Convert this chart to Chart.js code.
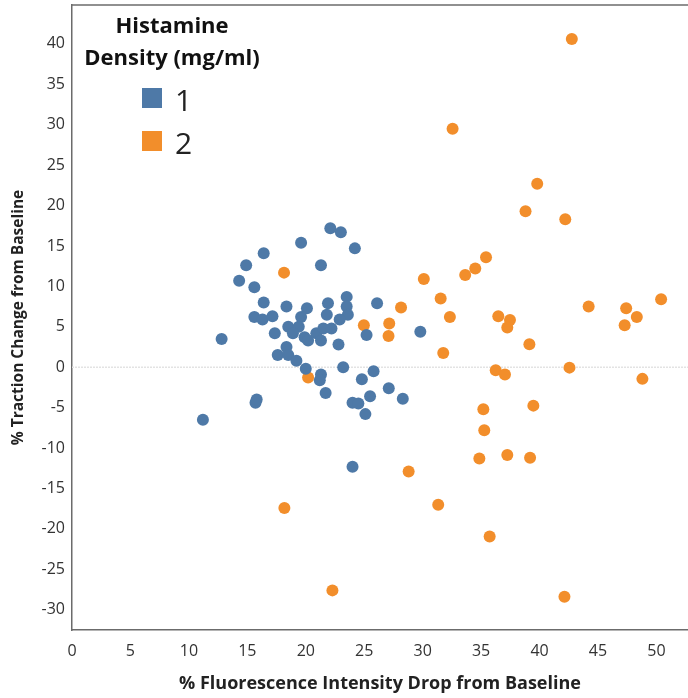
<!DOCTYPE html>
<html>
<head>
<meta charset="utf-8">
<script src="https://cdn.jsdelivr.net/npm/chart.js@4.4.1/dist/chart.umd.min.js"></script>
<style>
  html, body { margin: 0; padding: 0; background: #fff; }
  #wrap { width: 688px; height: 698px; }
</style>
</head>
<body>
<div id="wrap"><canvas id="scatter"></canvas></div>
<script>
// Histamine density groups
const groupLabels = ['1', '2'];
const groupColors = ['#4e79a7', '#f28e2b'];

// group 1: fluorescence drop (%) / traction change (%)
const drop1 = [22.1, 23.0, 19.6, 24.2, 16.4, 14.9, 21.3, 14.3, 15.6, 16.4,
               18.35, 20.1, 21.9, 23.5, 23.5, 23.6, 21.8, 22.9, 15.6, 16.3,
               17.15, 19.6, 18.5, 19.4, 18.9, 17.35, 19.9, 20.9, 21.5, 22.2,
               21.3, 20.2, 22.8, 18.35, 17.6, 18.5, 19.2, 20.0, 21.3, 21.2,
               23.2, 25.8, 24.8, 27.1, 25.5, 21.7, 28.3, 24.0, 24.5, 25.1,
               15.7, 15.8, 11.2, 24.0, 12.8, 26.1, 25.2, 29.8];
const traction1 = [17.2, 16.7, 15.4, 14.7, 14.1, 12.6, 12.6, 10.7, 9.9, 8.0,
                   7.5, 7.3, 7.9, 8.7, 7.5, 6.5, 6.5, 5.9, 6.2, 5.9,
                   6.3, 6.2, 5.0, 5.0, 4.2, 4.2, 3.7, 4.2, 4.8, 4.8,
                   3.3, 3.3, 2.8, 2.5, 1.5, 1.5, 0.8, -0.2, -0.9, -1.6,
                   0.0, -0.5, -1.5, -2.6, -3.6, -3.2, -3.9, -4.4, -4.5, -5.8,
                   -4.4, -4.0, -6.5, -12.3, 3.5, 7.9, 4.0, 4.4];

// group 2
const drop2 = [42.76, 32.56, 39.8, 38.8, 42.2, 18.14, 30.1, 33.64, 34.5, 35.42,
               31.54, 50.4, 44.2, 28.15, 32.33, 24.97, 27.14, 27.08, 36.47, 37.47,
               37.24, 39.13, 31.76, 47.41, 48.32, 47.28, 42.56, 36.25, 37.04, 48.8,
               20.2, 39.47, 35.19, 35.27, 34.85, 37.24, 39.19, 28.8, 18.17, 31.33,
               35.73, 22.28, 42.13];
const traction2 = [40.6, 29.5, 22.7, 19.3, 18.3, 11.7, 10.9, 11.4, 12.2, 13.6,
                   8.5, 8.4, 7.5, 7.4, 6.2, 5.2, 5.4, 3.85, 6.3, 5.85,
                   4.9, 2.85, 1.75, 7.3, 6.2, 5.2, -0.05, -0.37, -0.9, -1.44,
                   -1.28, -4.75, -5.2, -7.8, -11.3, -10.85, -11.2, -12.9, -17.4, -17.0,
                   -20.95, -27.6, -28.4];

const xTickValues = [0, 5, 10, 15, 20, 25, 30, 35, 40, 45, 50];
const yTickValues = [-30, -25, -20, -15, -10, -5, 0, 5, 10, 15, 20, 25, 30, 35, 40];

const toPoints = (xs, ys) => xs.map((x, i) => ({ x: x, y: ys[i] }));

// frame line along the top of the plot + zero reference line
const plotFrame = {
    id: 'plotFrame',
    beforeDatasetsDraw(chart) {
        const { ctx, chartArea: { left, right, top } } = chart;
        const y0 = chart.scales.y.getPixelForValue(0);
        ctx.save();
        ctx.strokeStyle = '#e3e3e3';
        ctx.lineWidth = 1.5;
        ctx.setLineDash([2, 1]);
        ctx.beginPath();
        ctx.moveTo(left, y0);
        ctx.lineTo(right, y0);
        ctx.stroke();
        ctx.setLineDash([]);
        ctx.strokeStyle = '#6b6b6b';
        ctx.lineWidth = 1.5;
        ctx.beginPath();
        ctx.moveTo(left, top);
        ctx.lineTo(right, top);
        ctx.stroke();
        ctx.restore();
    }
};

// legend block in the top-left corner
const densityLegend = {
    id: 'densityLegend',
    afterDraw(chart) {
        const { ctx } = chart;
        ctx.save();
        ctx.fillStyle = '#111';
        ctx.font = 'bold 22px "Open Sans"';
        ctx.textAlign = 'center';
        ctx.fillText('Histamine', 172, 33);
        ctx.fillText('Density (mg/ml)', 172, 65);
        chart.data.datasets.forEach((ds, i) => {
            const y = 88 + i * 43;
            ctx.fillStyle = ds.backgroundColor;
            ctx.fillRect(142, y, 20, 20);
            ctx.fillStyle = '#222';
            ctx.font = '30px "Open Sans"';
            ctx.textAlign = 'left';
            ctx.fillText(ds.label, 175, y + 23);
        });
        ctx.restore();
    }
};

new Chart(document.getElementById('scatter'), {
    type: 'scatter',
    data: {
        datasets: [
            { label: groupLabels[0], data: toPoints(drop1, traction1), backgroundColor: groupColors[0], pointRadius: 6, pointBorderWidth: 0 },
            { label: groupLabels[1], data: toPoints(drop2, traction2), backgroundColor: groupColors[1], pointRadius: 6, pointBorderWidth: 0 }
        ]
    },
    options: {
        responsive: true,
        maintainAspectRatio: false,
        animation: false,
        layout: { autoPadding: false, padding: { top: 5, right: 0, left: 0, bottom: 0 } },
        plugins: {
            legend: { display: false },
            tooltip: { enabled: false }
        },
        scales: {
            x: {
                type: 'linear',
                min: 0,
                max: 52.7,
                afterBuildTicks: s => { s.ticks = xTickValues.map(v => ({ value: v })); },
                afterFit: s => { s.height = 68; s.paddingLeft = 0; s.paddingRight = 0; },
                grid: { display: false, drawTicks: false },
                border: { display: true, color: '#6b6b6b', width: 1.5 },
                ticks: { padding: 12, color: '#333', font: { family: 'Open Sans', size: 16 } },
                title: { display: true, text: '% Fluorescence Intensity Drop from Baseline', color: '#222',
                         font: { family: 'Open Sans', size: 18, weight: 'bold' }, padding: { top: 0, bottom: 3 } }
            },
            y: {
                type: 'linear',
                min: -32.5,
                max: 44.8,
                afterBuildTicks: s => { s.ticks = yTickValues.map(v => ({ value: v })); },
                afterFit: s => { s.width = 72; s.paddingTop = 0; s.paddingBottom = 0; },
                grid: { display: false, drawTicks: false },
                border: { display: true, color: '#6b6b6b', width: 1.5 },
                ticks: { padding: 7, color: '#333', font: { family: 'Open Sans', size: 16 } },
                title: { display: true, text: '% Traction Change from Baseline', color: '#222',
                         font: { family: 'Open Sans', size: 15.5, weight: 'bold' }, padding: { top: 9, bottom: 0 } }
            }
        }
    },
    plugins: [plotFrame, densityLegend]
});
</script>
</body>
</html>
